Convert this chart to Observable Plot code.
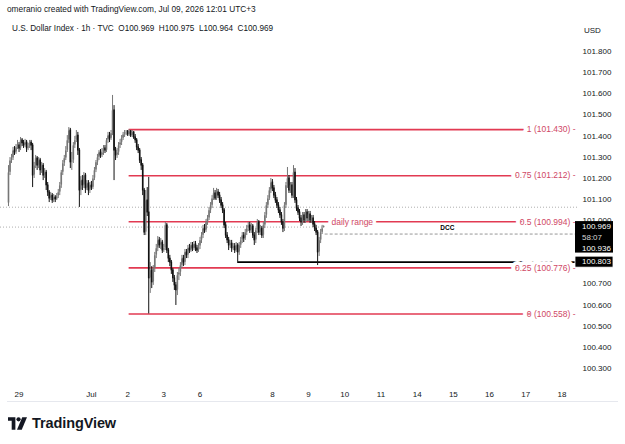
<!DOCTYPE html>
<html><head><meta charset="utf-8">
<script src="https://cdn.jsdelivr.net/npm/d3@7"></script>
<script src="https://cdn.jsdelivr.net/npm/@observablehq/plot@0.6"></script>
<style>
body{margin:0;background:#fff;}
#wrap{position:relative;width:625px;height:444px;overflow:hidden;background:#fff;font-family:"Liberation Sans",Arial,sans-serif;color:#131722;}
.h1{position:absolute;left:7px;top:3px;font-size:8.3px;line-height:12px;white-space:pre;}
.h2{position:absolute;left:12px;top:23px;font-size:8.2px;line-height:12px;white-space:pre;}
.usd{position:absolute;left:584px;top:25px;font-size:8px;line-height:12px;}
#chart{position:absolute;left:0;top:40px;}
.sep{position:absolute;left:7px;top:401px;width:611px;height:1px;background:#e6e8ee;}
.logo{position:absolute;left:8px;top:414px;height:18px;display:flex;align-items:center;}
.logo span{font-weight:bold;font-size:14.5px;margin-left:5px;letter-spacing:-0.1px;color:#131722;}
</style></head>
<body><div id="wrap">
<div class="h1">omeranio created with TradingView.com, Jul 09, 2026 12:01 UTC+3</div>
<div class="h2">U.S. Dollar Index · 1h · TVC  O100.969  H100.975  L100.964  C100.969</div>
<div class="usd">USD</div>
<div id="chart"></div>
<div class="sep"></div>
<div class="logo"><svg width="19" height="13" viewBox="0 0 36 24"><path d="M0 0h14v24H7V7H0z" fill="#131722"/><circle cx="20" cy="4" r="4" fill="#131722"/><path d="M27 0h9L26 24h-9z" fill="#131722"/></svg><span>TradingView</span></div>
</div>
<script>
// hourly candles, index 0 = first bar (Jun 28 evening)
const open = [101.081,101.227,101.284,101.294,101.331,101.322,101.346,101.355,101.341,101.379,
101.365,101.355,101.369,101.341,101.350,101.369,101.355,101.213,101.260,101.294,
101.260,101.284,101.237,101.260,101.213,101.227,101.166,101.133,101.104,101.118,
101.095,101.109,101.100,101.114,101.133,101.166,101.227,101.270,101.294,101.331,
101.379,101.426,101.275,101.284,101.355,101.379,101.402,101.331,101.142,101.189,
101.166,101.213,101.152,101.175,101.142,101.166,101.156,101.199,101.237,101.275,
101.298,101.322,101.308,101.322,101.341,101.331,101.379,101.402,101.388,101.412,
101.521,101.331,101.308,101.322,101.355,101.369,101.388,101.407,101.417,101.421,
101.407,101.421,101.402,101.417,101.393,101.379,101.346,101.331,101.284,101.260,
101.142,100.943,101.095,101.038,100.726,100.764,100.707,100.773,100.835,100.868,
100.906,100.882,100.896,100.858,100.868,100.977,100.858,100.820,100.801,100.764,
100.726,100.693,100.669,100.740,100.754,100.787,100.820,100.801,100.849,100.835,
100.868,100.858,100.882,100.868,100.887,100.868,100.858,100.877,100.906,100.929,
100.962,100.953,100.991,101.010,101.048,101.071,101.104,101.128,101.104,101.133,
101.118,101.095,101.071,101.048,100.977,100.929,100.906,100.882,100.891,100.868,
100.877,100.858,100.882,100.849,100.882,100.906,100.929,100.915,100.943,100.962,
100.977,100.953,100.972,100.929,100.906,100.953,100.991,100.943,100.962,100.929,
100.977,101.024,101.071,101.104,101.142,101.180,101.152,101.118,101.095,101.071,
101.048,101.024,100.991,100.962,101.071,101.166,101.199,101.142,101.166,101.118,
101.227,101.095,101.057,101.038,101.010,100.991,101.024,101.000,101.038,101.010,
101.029,101.000,101.010,100.981,100.962,100.943,100.849,100.906,100.943,100.969];
const high = [101.260,101.298,101.313,101.346,101.350,101.360,101.379,101.369,101.393,101.388,
101.379,101.384,101.379,101.365,101.379,101.379,101.365,101.275,101.308,101.303,
101.298,101.294,101.275,101.270,101.246,101.237,101.180,101.142,101.133,101.128,
101.123,101.118,101.128,101.147,101.180,101.237,101.284,101.308,101.350,101.402,
101.440,101.436,101.322,101.369,101.398,101.426,101.417,101.341,101.208,101.213,
101.227,101.223,101.189,101.189,101.180,101.185,101.213,101.251,101.284,101.313,
101.331,101.336,101.341,101.355,101.355,101.388,101.417,101.417,101.426,101.592,
101.544,101.346,101.341,101.369,101.384,101.402,101.417,101.426,101.426,101.426,
101.430,101.426,101.426,101.421,101.407,101.388,101.360,101.341,101.298,101.270,
101.152,101.142,101.156,101.204,100.801,100.782,100.787,100.849,100.887,100.924,
100.920,100.915,100.906,100.887,100.991,100.986,100.868,100.835,100.811,100.773,
100.740,100.707,100.754,100.773,100.801,100.835,100.835,100.863,100.863,100.882,
100.887,100.896,100.896,100.901,100.901,100.882,100.891,100.920,100.943,100.977,
100.981,101.005,101.024,101.062,101.085,101.118,101.152,101.142,101.152,101.147,
101.133,101.109,101.085,101.057,100.991,100.943,100.920,100.906,100.906,100.891,
100.891,100.896,100.891,100.896,100.920,100.943,100.943,100.958,100.977,100.991,
100.991,100.986,100.981,100.943,100.962,101.005,101.000,100.977,100.972,100.991,
101.038,101.085,101.118,101.156,101.199,101.194,101.166,101.133,101.109,101.085,
101.062,101.038,101.005,101.085,101.180,101.251,101.213,101.180,101.180,101.260,
101.246,101.109,101.071,101.052,101.024,101.038,101.038,101.052,101.052,101.043,
101.043,101.024,101.024,100.995,100.977,100.953,100.920,100.958,100.977,100.975];
const low = [101.066,101.213,101.270,101.284,101.308,101.313,101.336,101.322,101.331,101.350,
101.341,101.346,101.322,101.331,101.341,101.331,101.156,101.199,101.246,101.237,
101.246,101.213,101.223,101.189,101.199,101.142,101.114,101.085,101.095,101.081,
101.085,101.085,101.095,101.104,101.118,101.152,101.213,101.256,101.284,101.322,
101.365,101.246,101.237,101.270,101.341,101.369,101.308,101.062,101.118,101.142,
101.152,101.128,101.142,101.118,101.128,101.142,101.147,101.189,101.227,101.260,
101.284,101.294,101.298,101.308,101.317,101.322,101.365,101.369,101.379,101.402,
101.189,101.284,101.294,101.308,101.341,101.355,101.379,101.393,101.402,101.398,
101.398,101.393,101.393,101.384,101.365,101.331,101.317,101.270,101.237,101.118,
100.929,100.929,101.019,100.558,100.655,100.678,100.693,100.754,100.820,100.853,
100.868,100.863,100.844,100.849,100.858,100.844,100.801,100.782,100.745,100.707,
100.669,100.598,100.645,100.716,100.735,100.773,100.782,100.787,100.820,100.820,
100.844,100.849,100.853,100.858,100.853,100.844,100.849,100.863,100.891,100.915,
100.939,100.943,100.977,101.000,101.033,101.057,101.095,101.095,101.095,101.104,
101.081,101.057,101.033,100.962,100.915,100.891,100.858,100.868,100.849,100.858,
100.844,100.849,100.803,100.835,100.868,100.891,100.896,100.906,100.929,100.948,
100.939,100.939,100.915,100.882,100.891,100.939,100.929,100.929,100.915,100.915,
100.962,101.010,101.057,101.095,101.128,101.137,101.104,101.081,101.057,101.033,
101.010,100.977,100.943,100.948,101.057,101.152,101.128,101.128,101.104,101.104,
101.081,101.043,101.024,100.995,100.972,100.977,100.986,100.986,100.995,100.995,
100.986,100.986,100.967,100.948,100.929,100.787,100.830,100.891,100.934,100.964];
const close = [101.227,101.284,101.294,101.331,101.322,101.346,101.355,101.341,101.379,101.365,
101.355,101.369,101.341,101.350,101.369,101.355,101.213,101.260,101.294,101.260,
101.284,101.237,101.260,101.213,101.227,101.166,101.133,101.104,101.118,101.095,
101.109,101.100,101.114,101.133,101.166,101.227,101.270,101.294,101.331,101.379,
101.426,101.275,101.284,101.355,101.379,101.402,101.331,101.142,101.189,101.166,
101.213,101.152,101.175,101.142,101.166,101.156,101.199,101.237,101.275,101.298,
101.322,101.308,101.322,101.341,101.331,101.379,101.402,101.388,101.412,101.521,
101.331,101.308,101.322,101.355,101.369,101.388,101.407,101.417,101.421,101.407,
101.421,101.402,101.417,101.393,101.379,101.346,101.331,101.284,101.260,101.142,
100.943,101.095,101.038,100.726,100.764,100.707,100.773,100.835,100.868,100.906,
100.882,100.896,100.858,100.868,100.977,100.858,100.820,100.801,100.764,100.726,
100.693,100.669,100.740,100.754,100.787,100.820,100.801,100.849,100.835,100.868,
100.858,100.882,100.868,100.887,100.868,100.858,100.877,100.906,100.929,100.962,
100.953,100.991,101.010,101.048,101.071,101.104,101.128,101.104,101.133,101.118,
101.095,101.071,101.048,100.977,100.929,100.906,100.882,100.891,100.868,100.877,
100.858,100.882,100.849,100.882,100.906,100.929,100.915,100.943,100.962,100.977,
100.953,100.972,100.929,100.906,100.953,100.991,100.943,100.962,100.929,100.977,
101.024,101.071,101.104,101.142,101.180,101.152,101.118,101.095,101.071,101.048,
101.024,100.991,100.962,101.071,101.166,101.199,101.142,101.166,101.118,101.227,
101.095,101.057,101.038,101.010,100.991,101.024,101.000,101.038,101.010,101.029,
101.000,101.010,100.981,100.962,100.943,100.849,100.906,100.943,100.962,100.969];

// x-axis day labels (bar index of each day start) and visible y ticks
const dayTickIndex = [7,55,79,103,127,175,199,223,247,271,295,319,343,367];
const dayTickLabel = ["29","Jul","2","3","6","8","9","10","11","14","15","16","17","18"];
const priceTicks = [100.3,100.4,100.5,100.6,100.7,101.0,101.1,101.2,101.3,101.4,101.5,101.6,101.7,101.8];

// fibonacci "daily range" levels
const fibRatio = ["1","0.75","0.5","0.25","0"];
const fibPrice = [101.430,101.212,100.994,100.776,100.558];
const fibStartIndex = 80;
const lastPrice = 100.969;
const dccPrice = 100.936;
const dccStartIndex = 210;
const keyLow = 100.803;
const keyLowIndex = 152;
const prevLevel = 101.063;
const countdown = "58:07";

const bars = open.map((o, i) => ({i, o, h: high[i], l: low[i], c: close[i]}));
const RED = "#e23a52", TXTRED = "#cf4866", UP = "#767676", DOWN = "#111111";
const xMax = 378, xMin = -5.3;

const boxes = (index, scales, values, dims) => {
  const y = scales.y;
  const left = dims.width - dims.marginRight - 3;
  const g = d3.create("svg:g").attr("font-size", 8).attr("text-anchor", "start")
    .attr("font-family", "Liberation Sans, Arial, sans-serif");
  const y1 = y(lastPrice);
  g.append("rect").attr("x", left).attr("y", y1 - 5.5).attr("width", 38).attr("height", 31.5).attr("fill", "#000");
  [[lastPrice.toFixed(3), 0, "#fff"], [countdown, 10.3, "#d8d8d8"], [dccPrice.toFixed(3), 21.3, "#fff"]].forEach(([t, dy, f]) => {
    g.append("text").attr("x", left + 7).attr("y", y1 + dy).attr("dy", "0.35em").attr("fill", f).text(t);
  });
  const y2 = y(keyLow);
  g.append("rect").attr("x", left).attr("y", y2 - 5.5).attr("width", 38).attr("height", 11).attr("fill", "#000").attr("stroke", "#fff").attr("stroke-width", 0.8);
  g.append("text").attr("x", left + 7).attr("y", y2).attr("dy", "0.35em").attr("fill", "#fff").text(keyLow.toFixed(3));
  return g.node();
};

const chart = Plot.plot({
  width: 625, height: 364,
  marginTop: 0, marginLeft: 0, marginRight: 47, marginBottom: 20,
  x: {domain: [xMin, xMax], axis: null},
  y: {domain: [100.224, 101.852], axis: null},
  style: {fontFamily: "Liberation Sans, Arial, sans-serif", fontSize: "8px", color: "#131722", background: "transparent", overflow: "visible"},
  marks: [
    Plot.ruleY([prevLevel], {x1: xMin, x2: xMax, stroke: "#9a9a9a", strokeWidth: 0.8, strokeDasharray: "1,2"}),
    Plot.ruleY([lastPrice], {x1: xMin, x2: 209, stroke: "#9a9a9a", strokeWidth: 0.8, strokeDasharray: "1,2"}),
    Plot.ruleY([dccPrice], {x1: dccStartIndex, x2: xMax, stroke: "#8a8a8a", strokeWidth: 0.9, strokeDasharray: "3,2"}),
    Plot.ruleY(fibPrice, {x1: fibStartIndex, x2: xMax, stroke: RED, strokeWidth: 1.6}),
    Plot.ruleY([keyLow], {x1: keyLowIndex, x2: xMax, stroke: "#000", strokeWidth: 1.8}),
    Plot.ruleX(bars, {x: "i", y1: "l", y2: "h", stroke: d => d.c >= d.o ? UP : DOWN, strokeWidth: 1}),
    Plot.ruleX(bars, {x: "i", y1: "o", y2: "c", stroke: d => d.c >= d.o ? UP : DOWN, strokeWidth: 1.6, insetTop: -0.4, insetBottom: -0.4}),
    Plot.text(fibPrice, {y: d => d, text: (d, i) => `${fibRatio[i]} (${d.toFixed(3)}) -`, frameAnchor: "right", textAnchor: "end", dx: -3, fill: TXTRED, stroke: "#fff", strokeWidth: 8, paintOrder: "stroke", fontSize: 8.5}),
    Plot.text(["daily range"], {x: 228, y: fibPrice[2], text: d => d, fill: TXTRED, stroke: "#fff", strokeWidth: 7, paintOrder: "stroke", fontSize: 8.5}),
    Plot.text(["DCC"], {x: 291, y: dccPrice, text: d => d, dy: -6, fill: "#000", fontWeight: "bold", fontSize: 6.5}),
    Plot.axisY(priceTicks, {anchor: "right", tickSize: 0, tickPadding: 4, tickFormat: d => d.toFixed(3), fontSize: 8}),
    Plot.text(dayTickIndex, {x: d => d, text: (d, i) => dayTickLabel[i], frameAnchor: "bottom", dy: 12, fontSize: 8}),
    boxes
  ]
});
document.getElementById("chart").appendChild(chart);
</script>
</body></html>
